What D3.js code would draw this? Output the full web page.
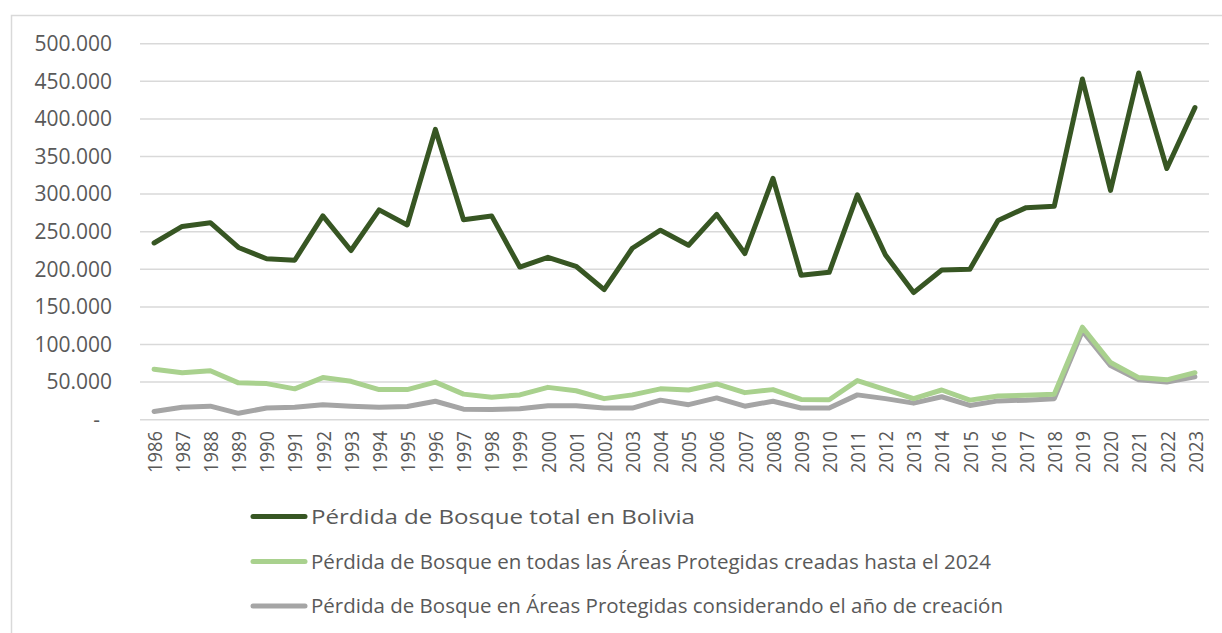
<!DOCTYPE html>
<html lang="es">
<head>
    <meta charset="UTF-8">
    <title>Pérdida de Bosque</title>
    <style>
        body { margin: 0; background: #fff; }
        text { font-family: "Open Sans", sans-serif; fill: #595959; }
    </style>
</head>
<body>
<script src="https://d3js.org/d3.v7.min.js"></script>
<script>
    // years on the x axis
    var years = [1986, 1987, 1988, 1989, 1990, 1991, 1992, 1993, 1994, 1995, 1996, 1997, 1998,
        1999, 2000, 2001, 2002, 2003, 2004, 2005, 2006, 2007, 2008, 2009, 2010, 2011, 2012,
        2013, 2014, 2015, 2016, 2017, 2018, 2019, 2020, 2021, 2022, 2023];

    // hectares
    var totalBolivia = [235000, 257000, 262000, 229000, 214000, 212000, 271000, 225000, 279000, 259000,
        386000, 266000, 271000, 203000, 216000, 204000, 173000, 228000, 252000, 232000,
        273000, 221000, 321000, 192000, 196000, 299000, 219000, 169000, 199000, 200000,
        265000, 282000, 284000, 453000, 305000, 461000, 334000, 415000];

    var todasAP = [67000, 62500, 65000, 49000, 48000, 41000, 56000, 51000, 40000, 40000,
        50000, 34000, 30000, 33000, 43000, 38500, 28000, 33000, 41000, 39500,
        47500, 36000, 40000, 27000, 26500, 52000, 40000, 28000, 39500, 26000,
        31500, 32500, 34000, 123000, 76000, 56000, 53000, 62500];

    var apCreacion = [11000, 16500, 18000, 8500, 15500, 16500, 20000, 18000, 16500, 17500,
        24500, 14000, 13500, 14600, 18500, 18500, 15500, 15500, 26000, 20000,
        29000, 18000, 24500, 15500, 15500, 33000, 28000, 22000, 30500, 19000,
        25000, 26000, 28000, 118000, 72000, 53000, 50000, 57000];

    var yTicks = [0, 50000, 100000, 150000, 200000, 250000, 300000, 350000, 400000, 450000, 500000];

    var seriesNames = [
        "Pérdida de Bosque total en Bolivia",
        "Pérdida de Bosque en todas las Áreas Protegidas creadas hasta el 2024",
        "Pérdida de Bosque en Áreas Protegidas considerando el año de creación"
    ];
    var seriesColors = ["#375623", "#a9d18e", "#a5a5a5"];

    var width = 1222, height = 633;

    var svg = d3.select("body")
                .append("svg")
                .attr("width", width)
                .attr("height", height);

    // chart frame (runs off the right and bottom of the picture)
    svg.append("rect")
        .attr("x", 11.5)
        .attr("y", 15.5)
        .attr("width", 1240)
        .attr("height", 660)
        .attr("fill", "none")
        .attr("stroke", "#d9d9d9")
        .attr("stroke-width", 1.5);

    var x = d3.scalePoint()
        .domain(years)
        .range([140, 1209])
        .padding(0.5);

    var y = d3.scaleLinear()
        .domain([0, 500000])
        .range([419.7, 43.7]);

    var es = d3.formatLocale({decimal: ",", thousands: ".", grouping: [3], currency: ["", ""]});
    var fmt = es.format(",");

    // gridlines
    svg.append("g")
        .selectAll("line")
        .data(yTicks)
        .join("line")
        .attr("x1", 140)
        .attr("x2", 1209)
        .attr("y1", d => y(d))
        .attr("y2", d => y(d))
        .attr("stroke", "#d9d9d9")
        .attr("stroke-width", 1.5);

    // y axis labels
    var yAxis = svg.append("g")
        .attr("transform", "translate(112,0)")
        .call(d3.axisLeft(y).tickValues(yTicks).tickSize(0).tickPadding(0)
            .tickFormat(d => d === 0 ? "-" : fmt(d)));
    yAxis.select(".domain").remove();
    yAxis.selectAll("text")
        .attr("font-size", 21)
        .attr("font-family", null)
        .attr("fill", "#595959")
        .attr("x", d => d === 0 ? -12 : 0);

    // x axis labels
    var xAxis = svg.append("g")
        .attr("transform", "translate(0,431)")
        .call(d3.axisBottom(x).tickSize(0).tickPadding(0));
    xAxis.select(".domain").remove();
    xAxis.selectAll("text")
        .attr("font-size", 20)
        .attr("font-family", null)
        .attr("fill", "#595959")
        .attr("transform", "rotate(-90)")
        .attr("text-anchor", "end")
        .attr("x", 0)
        .attr("y", 0)
        .attr("dy", "0.36em")
        .attr("textLength", 42)
        .attr("lengthAdjust", "spacingAndGlyphs");

    // lines
    var allSeries = [totalBolivia, todasAP, apCreacion];
    var line = d3.line()
        .x((d, i) => x(years[i]))
        .y(d => y(d));

    // draw back-to-front so the total sits above
    [2, 1, 0].forEach(function (k) {
        svg.append("path")
            .datum(allSeries[k])
            .attr("d", line)
            .attr("fill", "none")
            .attr("stroke", seriesColors[k])
            .attr("stroke-width", 5)
            .attr("stroke-linejoin", "round")
            .attr("stroke-linecap", "round");
    });

    // legend
    var legendY = [516.5, 561.5, 606];
    var legendLen = [384, 680, 692];
    var legend = svg.append("g");
    seriesNames.forEach(function (name, k) {
        legend.append("line")
            .attr("x1", 253)
            .attr("x2", 305)
            .attr("y1", legendY[k])
            .attr("y2", legendY[k])
            .attr("stroke", seriesColors[k])
            .attr("stroke-width", 5)
            .attr("stroke-linecap", "round");
        legend.append("text")
            .attr("x", 311)
            .attr("y", legendY[k] + 7)
            .attr("font-size", 19.5)
            .attr("textLength", legendLen[k])
            .attr("lengthAdjust", "spacingAndGlyphs")
            .text(name);
    });
</script>
</body>
</html>
